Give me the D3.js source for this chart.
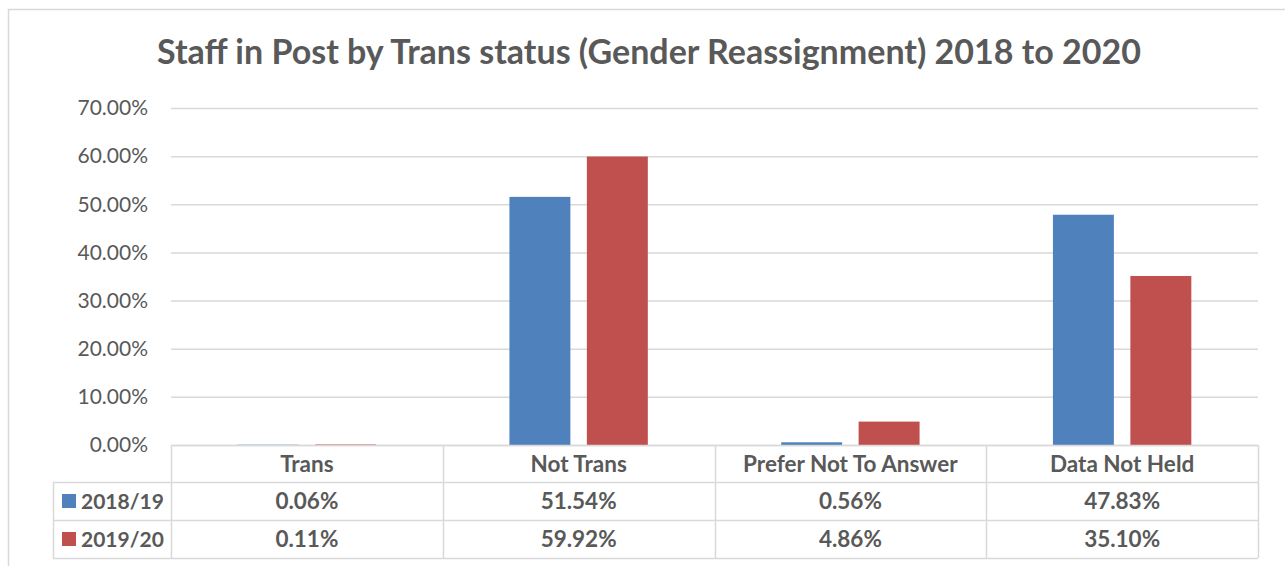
<!DOCTYPE html>
<html>
<head>
<meta charset="utf-8">
<script src="https://cdn.jsdelivr.net/npm/d3@7"></script>
<style>
  body { margin: 0; background: #fff; }
  svg { display: block; font-family: Lato, "Open Sans", sans-serif; }
</style>
</head>
<body>
<svg width="1285" height="566"></svg>
<script>
const categories = ['Trans', 'Not Trans', 'Prefer Not To Answer', 'Data Not Held'];
const seriesNames = ['2018/19', '2019/20'];
const values1819 = [0.06, 51.54, 0.56, 47.83];
const values1920 = [0.11, 59.92, 4.86, 35.10];
const yTicks = [0, 10, 20, 30, 40, 50, 60, 70];

const colours = ['#4F81BD', '#C0504D'];
const textCol = '#595959';
const lineCol = '#D9D9D9';

const series = [values1819, values1920];

const svg = d3.select('svg'),
    width = +svg.attr('width'),
    height = +svg.attr('height');

// chart frame (cropped on right and bottom)
svg.append('rect')
    .attr('x', 8.5).attr('y', 9.5)
    .attr('width', width + 20).attr('height', height + 20)
    .attr('fill', 'none').attr('stroke', lineCol).attr('stroke-width', 1.5);

svg.append('text')
    .attr('x', 649).attr('y', 64)
    .attr('text-anchor', 'middle')
    .attr('font-size', 34).attr('font-weight', 'bold')
    .attr('fill', textCol)
    .text('Staff in Post by Trans status (Gender Reassignment) 2018 to 2020');

const plot = {left: 171, right: 1258, top: 108, bottom: 445};

const y = d3.scaleLinear().domain([0, 70]).range([plot.bottom, plot.top]);
const x0 = d3.scaleBand().domain(categories).range([plot.left, plot.right]);
const x1 = d3.scaleBand().domain(seriesNames).range([0, x0.bandwidth()])
    .paddingInner(0.213).paddingOuter(0.861);

// gridlines
svg.append('g').selectAll('line')
    .data(yTicks).enter().append('line')
    .attr('x1', plot.left).attr('x2', plot.right)
    .attr('y1', d => y(d) + 0.5).attr('y2', d => y(d) + 0.5)
    .attr('stroke', lineCol).attr('stroke-width', 1.5);

// y axis labels
const yAxis = d3.axisLeft(y).tickValues(yTicks).tickSize(0).tickPadding(0)
    .tickFormat(d => d3.format('.2f')(d) + '%');
const ya = svg.append('g').attr('transform', 'translate(148,0)').call(yAxis);
ya.select('.domain').remove();
ya.selectAll('text').attr('font-size', 21).attr('fill', textCol)
    .attr('font-family', 'Lato, "Open Sans", sans-serif');

// bars
const groups = svg.append('g').selectAll('g')
    .data(categories).enter().append('g')
    .attr('transform', d => `translate(${x0(d)},0)`);

groups.selectAll('rect')
    .data((c, ci) => seriesNames.map((s, si) => ({s: s, si: si, v: series[si][ci]})))
    .enter().append('rect')
    .attr('x', d => x1(d.s))
    .attr('width', x1.bandwidth())
    .attr('y', d => y(d.v))
    .attr('height', d => y(0) - y(d.v))
    .attr('fill', d => colours[d.si]);

// data table
const rowTop = [445, 482, 520];
const rowH = 38;
const legendLeft = 53;
const table = svg.append('g').attr('stroke', lineCol).attr('stroke-width', 1.5).attr('fill', 'none');

table.append('line').attr('x1', plot.left).attr('x2', plot.right).attr('y1', plot.bottom + 0.5).attr('y2', plot.bottom + 0.5);
[rowTop[1], rowTop[2], rowTop[2] + rowH].forEach(v => {
  table.append('line').attr('x1', legendLeft).attr('x2', plot.right).attr('y1', v + 0.5).attr('y2', v + 0.5);
});
table.append('line').attr('x1', legendLeft + 0.5).attr('x2', legendLeft + 0.5).attr('y1', rowTop[1]).attr('y2', rowTop[2] + rowH);
categories.forEach(c => {
  const xv = Math.round(x0(c)) + 0.5;
  table.append('line').attr('x1', xv).attr('x2', xv).attr('y1', plot.bottom).attr('y2', rowTop[2] + rowH);
});
table.append('line').attr('x1', plot.right + 0.5).attr('x2', plot.right + 0.5).attr('y1', plot.bottom).attr('y2', rowTop[2] + rowH);

// header text
svg.append('g').selectAll('text')
    .data(categories).enter().append('text')
    .attr('x', d => x0(d) + x0.bandwidth() / 2)
    .attr('y', rowTop[0] + rowH / 2)
    .attr('dy', '0.36em')
    .attr('text-anchor', 'middle')
    .attr('font-size', 22.5).attr('font-weight', 'bold').attr('fill', textCol)
    .text(d => d);

// series rows
seriesNames.forEach((s, si) => {
  const ry = rowTop[si + 1];
  svg.append('rect')
      .attr('x', 62).attr('y', ry + rowH / 2 - 7)
      .attr('width', 14).attr('height', 14)
      .attr('fill', colours[si]);
  svg.append('text')
      .attr('x', 81).attr('y', ry + rowH / 2).attr('dy', '0.36em')
      .attr('font-size', 21).attr('font-weight', 'bold').attr('fill', textCol)
      .text(s);
  svg.append('g').selectAll('text')
      .data(series[si]).enter().append('text')
      .attr('x', (d, i) => x0(categories[i]) + x0.bandwidth() / 2)
      .attr('y', ry + rowH / 2).attr('dy', '0.36em')
      .attr('text-anchor', 'middle')
      .attr('font-size', 22.5).attr('font-weight', 'bold').attr('fill', textCol)
      .text(d => d3.format('.2f')(d) + '%');
});
</script>
</body>
</html>
